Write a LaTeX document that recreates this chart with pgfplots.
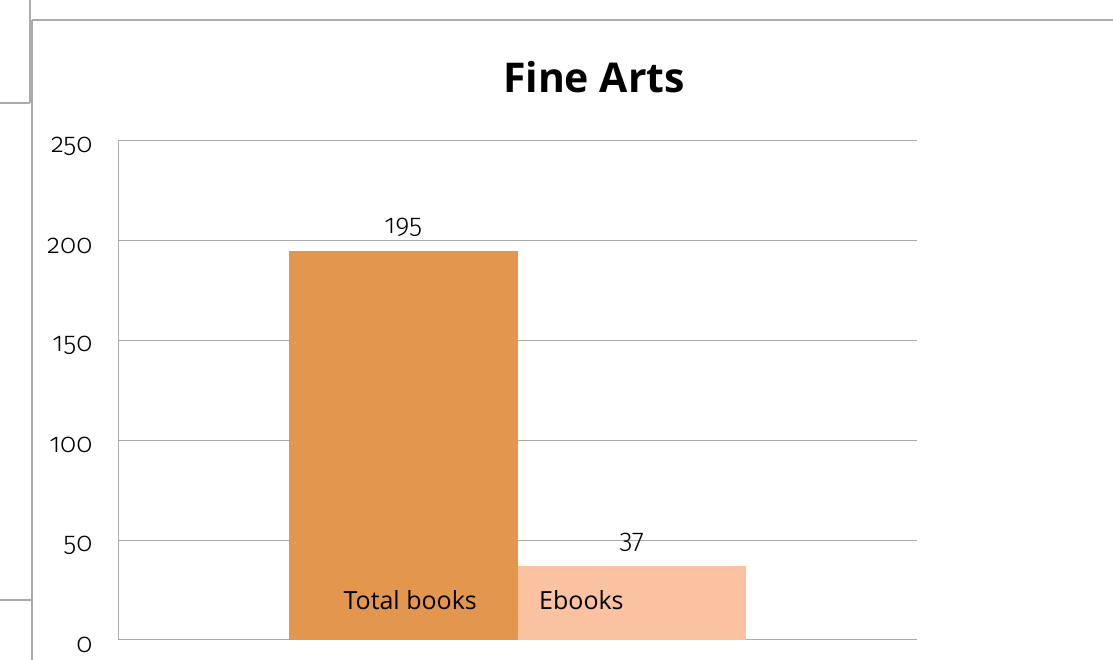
\documentclass[border=0pt]{standalone}
\usepackage{fontspec}
\setmainfont{Open Sans}
\newfontfamily\numfont[Numbers=OldStyle]{Fira Sans Light}
\usepackage{pgfplots}
\pgfplotsset{compat=1.18}
\definecolor{barA}{HTML}{E3974E}
\definecolor{barB}{HTML}{FAC2A1}
\definecolor{gridc}{HTML}{ABABAB}
\begin{document}
\begin{tikzpicture}[x=1pt,y=1pt]
\path[use as bounding box] (0,0) rectangle (1113,660);
% outer frame decorations
\draw[gridc,line width=1.3pt] (32,0) -- (32,640);
\draw[gridc,line width=1.3pt] (32,640) -- (1113,640);
\draw[gridc,line width=1.3pt] (30,660) -- (30,557);
\draw[gridc,line width=1.3pt] (0,557) -- (30,557);
\draw[gridc,line width=1.3pt] (0,60) -- (32,60);
\node[font=\fontsize{41}{48}\selectfont\bfseries] at (594,583) {Fine Arts};
\begin{axis}[
  at={(118pt,20pt)}, anchor=south west,
  scale only axis, width=799pt, height=499pt,
  xmin=0, xmax=3.5, ymin=0, ymax=250,
  ytick={0,50,100,150,200,250},
  xtick=\empty,
  axis x line=bottom, axis y line=left,
  axis line style={gridc,line width=1pt,-},
  ymajorgrids, grid style={gridc,line width=1pt},
  major tick length=0pt,
  tick label style={font=\fontsize{27}{30}\selectfont\numfont},
  /pgf/number format/assume math mode=true,
  yticklabel style={xshift=-22pt, yshift=-5pt},
  ybar, bar width=1, bar shift=0pt,
  nodes near coords,
  every node near coord/.append style={font=\fontsize{27}{30}\selectfont\numfont, black, yshift=11pt},
  clip=false,
]
\addplot[fill=barA, draw=none] coordinates {(1.25,195)};
\addplot[fill=barB, draw=none] coordinates {(2.25,37)};
\node[font=\fontsize{25}{30}\selectfont] at (axis cs:1.28,20) {Total books};
\node[font=\fontsize{25}{30}\selectfont] at (axis cs:2.03,20) {Ebooks};
\end{axis}
\end{tikzpicture}
\end{document}
